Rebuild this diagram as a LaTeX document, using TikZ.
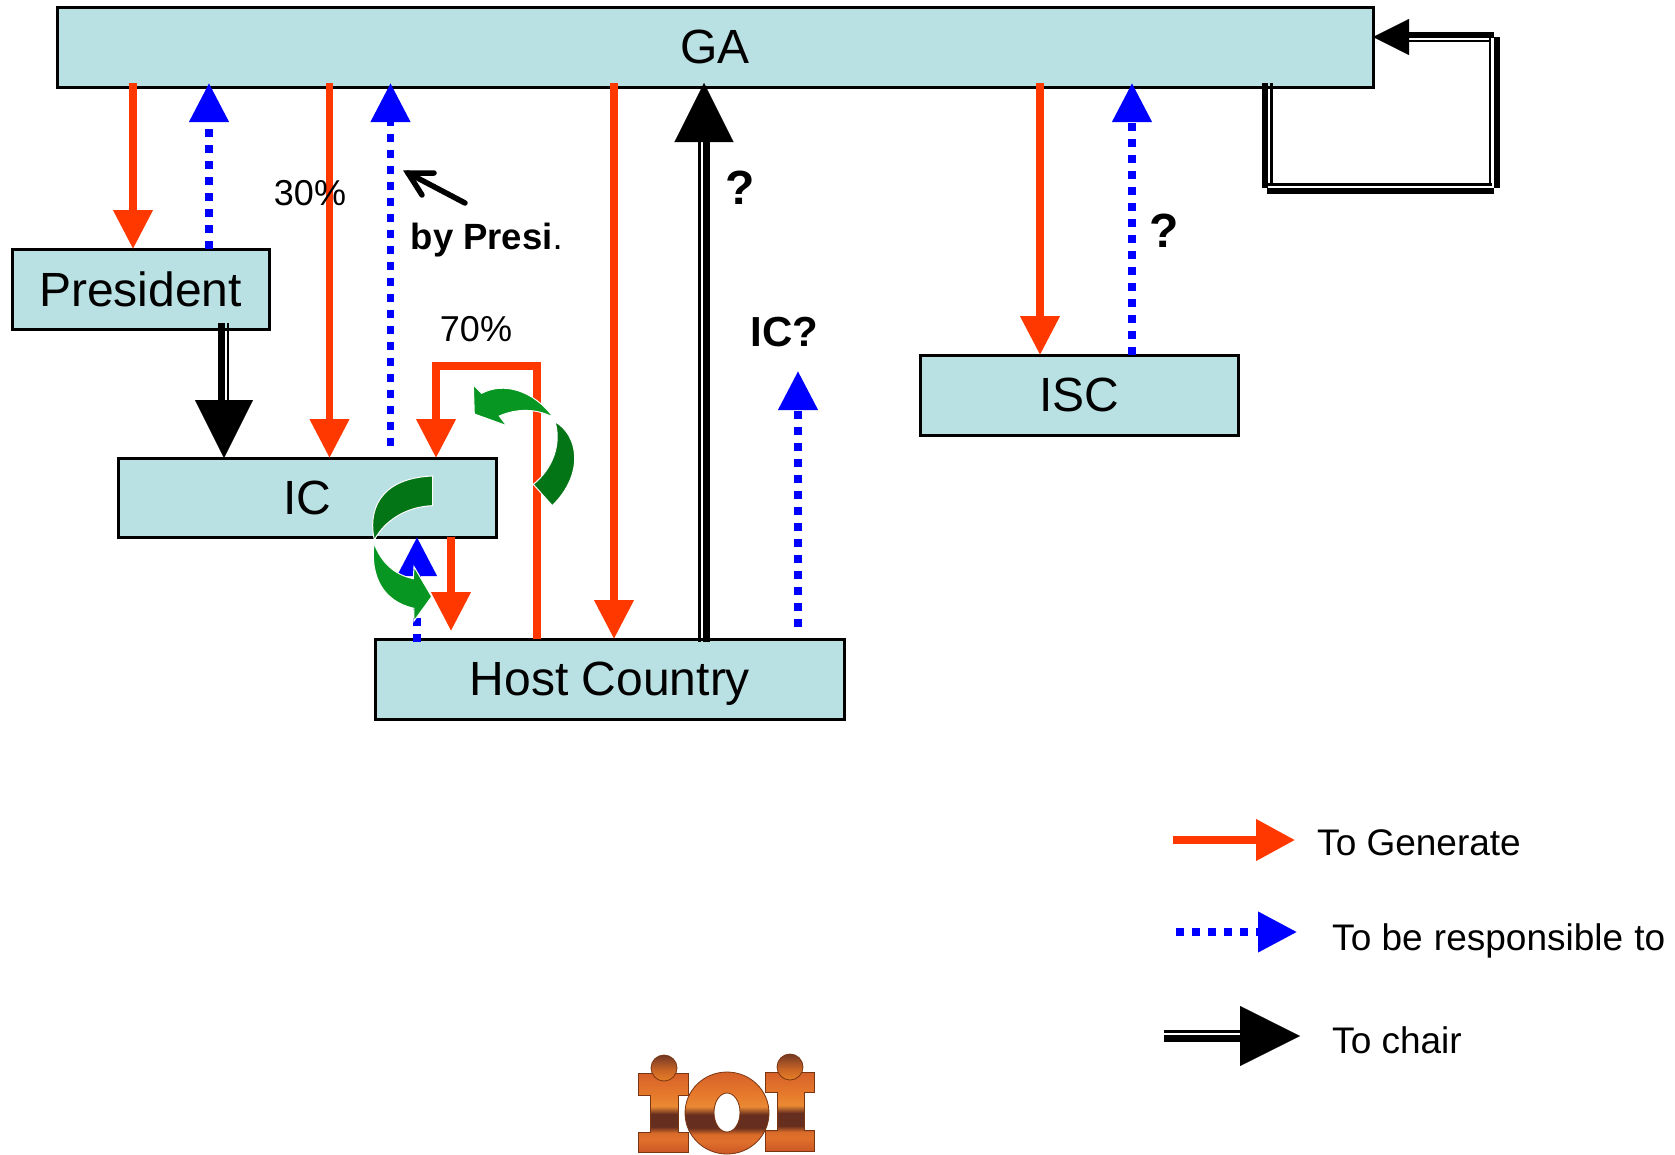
\documentclass[tikz,border=0pt]{standalone}
\usepackage{fontspec}
\setmainfont{Liberation Sans}
\usetikzlibrary{arrows.meta}
\definecolor{boxfill}{HTML}{B9E0E3}
\definecolor{genred}{HTML}{FF3800}
\definecolor{respblue}{HTML}{0000FF}
\definecolor{greenA}{HTML}{079621}
\definecolor{greenB}{HTML}{047516}
\definecolor{logoedge}{HTML}{7A3512}
\pgfdeclareverticalshading{ioishade}{100bp}{
rgb(0bp)=(.80,.34,.15); rgb(25bp)=(.80,.34,.15); rgb(33bp)=(.88,.44,.17); rgb(37bp)=(.85,.42,.16);
rgb(41bp)=(.40,.18,.12); rgb(49bp)=(.40,.18,.12); rgb(54bp)=(.92,.54,.20); rgb(62bp)=(.90,.47,.17);
rgb(75bp)=(.84,.38,.16); rgb(100bp)=(.84,.38,.16)}
\pgfdeclareverticalshading{ioidot}{100bp}{
rgb(0bp)=(.90,.50,.15); rgb(25bp)=(.90,.50,.15); rgb(45bp)=(.80,.40,.15); rgb(75bp)=(.45,.22,.14); rgb(100bp)=(.45,.22,.14)}
\newcommand{\fs}[1]{\fontsize{#1}{#1}\selectfont}
\tikzset{
  x=1pt,y=-1pt,
  box/.style={draw=black,line width=3pt,fill=boxfill,inner sep=0pt,outer sep=0pt,text depth=0pt,font=\fs{48}},
  genarrow/.style={draw=genred,line width=7.5pt,-{Triangle[length=39pt,width=38pt]}},
  resparrow/.style={draw=respblue,line width=7.5pt,dash pattern=on 8pt off 8pt,-{Triangle[length=39pt,width=38pt]}},
  chairthick/.style={draw=black,line width=6.5pt},
  chairthin/.style={draw=black,line width=2.5pt},
  chairtip/.style={draw=black,line width=0.1pt,-{Triangle[length=#1,width=#1]}},
  label/.style={inner sep=0pt,font=\fs{36}},
  legendtext/.style={inner sep=0pt,text depth=0pt,font=\fs{37}},
  qmark/.style={inner sep=0pt,font=\fs{48}\bfseries},
  curveA/.style={fill=greenA,draw=white,line width=1pt},
  curveB/.style={fill=greenB,draw=white,line width=1pt},
  logopart/.style={draw=logoedge,line width=.8pt},
}
\begin{document}
\begin{tikzpicture}
\useasboundingbox (0,0) rectangle (1675,1154);
% nodes
\node[box,minimum width=1316pt,minimum height=80pt] (ga) at (715,47) {GA};
\node[box,minimum width=257pt,minimum height=80pt] (pres) at (140.5,289) {President};
\node[box,minimum width=378pt,minimum height=79pt] (ic) at (307,497.5) {IC};
\node[box,minimum width=469pt,minimum height=80pt] (host) at (610,679) {Host Country};
\node[box,minimum width=318pt,minimum height=80pt] (isc) at (1079,395) {ISC};
\coordinate (gaedge) at ([yshift=4pt]ga.south);
\coordinate (hostedge) at ([yshift=-3pt]host.north);
\coordinate (presedge) at ([yshift=6pt]pres.south);
% to generate
\draw[genarrow] (gaedge -| 133,0) -- (pres.north -| 133,0);
\draw[genarrow] (gaedge -| 329.5,0) -- (ic.north -| 329.5,0);
\draw[genarrow] (gaedge -| 614,0) -- (host.north -| 614,0);
\draw[genarrow] (gaedge -| 1040,0) -- (isc.north -| 1040,0);
\draw[genarrow] (ic.south -| 451,0) -- (451,631);
\draw[genarrow] (host.north -| 537,0) -- (537,366) -- (436,366) -- (ic.north -| 436,0);
% to be responsible to
\draw[resparrow] (pres.north -| 209,0) -- (gaedge -| 209,0);
\draw[resparrow] (390.5,445.6) -- (gaedge -| 390.5,0);
\draw[resparrow] (798,627) -- (798,371);
\draw[resparrow] (isc.north -| 1132,0) -- (gaedge -| 1132,0);
\draw[resparrow] (417,642) -- (ic.south -| 417,0);
% to chair
\draw[chairthin] (hostedge -| 699.5,0) -- (699.5,142);
\draw[chairthick] (hostedge -| 706.5,0) -- (706.5,142);
\draw[chairtip=59pt] (704,142) -- (gaedge -| 704,0);
\draw[chairthick] (presedge -| 221.5,0) -- (221.5,401);
\draw[chairthin] (presedge -| 228,0) -- (228,401);
\draw[chairtip=58pt] (224,401) -- (ic.north -| 224,0);
% GA self loop
\draw[chairthick] (gaedge -| 1265,0) -- (1265,188);
\draw[chairthin] (gaedge -| 1271.7,0) -- (1271.7,186);
\draw[chairthick] (1267,191) -- (1494,191);
\draw[chairthin] (1268,184.5) -- (1492,184.5);
\draw[chairthick] (1497,37) -- (1497,188);
\draw[chairthin] (1490,38) -- (1490,186);
\draw[chairthick] (1400,35) -- (1494,35);
\draw[chairthin] (1405,41) -- (1491,41);
\draw[chairtip=36pt] (1410,37) -- (ga.east |- 0,37);
% green curved arrows
\begin{scope}[shift={(340,340)},x=0.3333pt,y=-0.3333pt]
\draw[curveA] (640,232) .. controls (580,150) and (490,125) .. (425,160) -- (400,135) -- (403,222) -- (500,257) -- (478,228) .. controls (530,205) and (590,205) .. cycle;
\draw[curveB] (645,245) .. controls (715,285) and (735,400) .. (637,497) -- (580,433) .. controls (640,385) and (665,310) .. cycle;
\draw[curveB] (278,408) -- (278,497) .. controls (200,500) and (135,540) .. (103,600) .. controls (85,520) and (110,415) .. cycle;
\draw[curveA] (102,610) .. controls (125,670) and (165,705) .. (220,716) -- (222,680) -- (275,770) -- (222,843) -- (222,805) .. controls (130,785) and (90,710) .. cycle;
\end{scope}
% small pointer
\coordinate (ptail) at (465,203);
\coordinate (ptip) at (408,173);
\coordinate (pb1) at (434,173);
\coordinate (pb2) at (422,195);
\draw[black,line width=5.5pt,line cap=round] (ptail) -- (ptip);
\draw[black,line width=5.5pt,line cap=round] (pb1) -- (ptip) -- (pb2);
% labels
\node[label] (l30) at (310,193) {30\%};
\node[label] (l70) at (476,329) {70\%};
\node[label,anchor=west,font=\fs{36.5}] (lpresi) at (410.5,240) {\bfseries by Presi\mdseries.};
\node[qmark] (q1) at (740,188) {?};
\node[qmark] (q2) at (1164,231) {?};
\node[label,font=\fs{42}\bfseries] (lic) at (784.5,332) {IC?};
% legend
\coordinate (lgA1) at (1173,840);
\coordinate (lgA2) at (1295,840);
\draw[genarrow,-{Triangle[length=39pt,width=40pt]}] (lgA1) -- (lgA2);
\coordinate (lgB1) at (1176,932);
\coordinate (lgB2) at (1297,932);
\draw[resparrow,-{Triangle[length=39pt,width=39pt]}] (lgB1) -- (lgB2);
\coordinate (lgC1) at (1164,1031.7);
\coordinate (lgC2) at (1164,1038.5);
\coordinate (lgC3) at (1241,1036);
\coordinate (lgC4) at (1300,1036);
\draw[chairthin] (lgC1) -- (lgC1 -| lgC3);
\draw[chairthick] (lgC2) -- (lgC2 -| lgC3);
\draw[chairtip=60pt] (lgC3) -- (lgC4);
\node[legendtext,anchor=west] (tA) at (1317,843) {To Generate};
\node[legendtext,anchor=west] (tB) at (1332,937) {To be\hspace{1pt} responsible\hspace{1pt} to};
\node[legendtext,anchor=west] (tC) at (1332,1040) {To chair};
% logo
\shadedraw[shading=ioishade,logopart] (638,1073) -- (688,1073) -- (688,1095) -- (678,1095) -- (678,1132) -- (688,1132) -- (688,1152) -- (638,1152) -- (638,1132) -- (650,1132) -- (650,1095) -- (638,1095) -- cycle;
\shadedraw[shading=ioishade,logopart] (765,1072) -- (814,1072) -- (814,1092) -- (804,1092) -- (804,1130) -- (814,1130) -- (814,1151) -- (765,1151) -- (765,1130) -- (777,1130) -- (777,1092) -- (765,1092) -- cycle;
\shadedraw[shading=ioidot,logopart] (664,1068) circle[radius=13];
\shadedraw[shading=ioidot,logopart] (790,1067) circle[radius=13];
\shadedraw[shading=ioishade,logopart,even odd rule] (727,1113) ellipse[x radius=42,y radius=41] (727,1112.5) ellipse[x radius=13,y radius=19.5];
\end{tikzpicture}
\end{document}
